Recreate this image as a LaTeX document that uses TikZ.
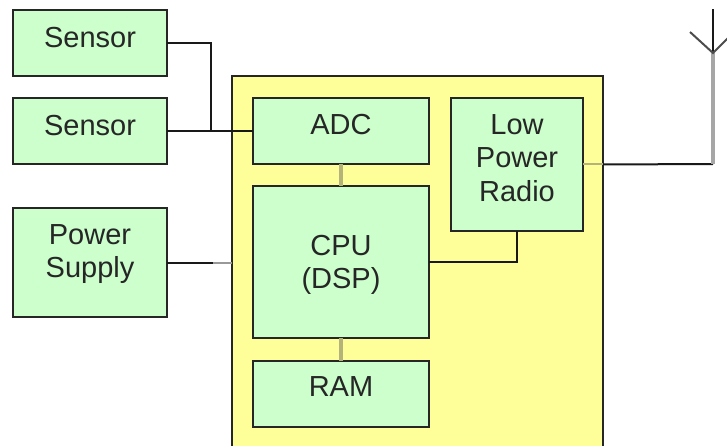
\documentclass[tikz,border=0pt]{standalone}
\usepackage{fontspec}
\setmainfont{Liberation Sans}
\usepackage{tikz}
\usetikzlibrary{positioning}
\definecolor{boxgreen}{HTML}{CCFFCC}
\definecolor{chipyellow}{HTML}{FFFF99}
\definecolor{busolive}{HTML}{B4B47A}

\begin{document}
\begin{tikzpicture}[
  x=1pt, y=-1pt,
  unit/.style={draw=black!85, line width=2pt, outer sep=0pt, inner sep=0pt, align=center, fill=boxgreen,
    text=black!85, font=\fontsize{29}{33.5}\selectfont, text height=20pt},
  periph/.style={unit, minimum width=154pt},
  block/.style={unit, minimum width=176pt},
  chip/.style={draw=black!85, line width=2pt, outer sep=0pt, fill=chipyellow, minimum width=371pt, minimum height=390pt},
  wire/.style={draw=black!90, line width=2pt},
  busline/.style={draw=busolive, line width=3.5pt},
  fade/.style={draw=black!40, line width=2pt},
  mast/.style={draw=black!35, line width=3.5pt}
]
\clip (0,0) rectangle (727,446);
\node[chip] (mcu) at (417.5,271) {};
\node[periph, minimum height=66pt, text depth=10pt] (sensorA) at (90,43) {Sensor};
\node[periph, minimum height=66pt, text depth=10pt, below=22pt of sensorA] (sensorB) {Sensor};
\node[periph, minimum height=109pt, text height=40pt, text depth=10pt, below=44pt of sensorB] (power) {Power\\Supply};
\node[block, minimum height=66pt, text depth=13pt] (adc) at (341,131) {ADC};
\node[block, minimum height=152pt, text height=60pt, text depth=7pt, below=22pt of adc] (cpu) {CPU\\(DSP)};
\node[block, minimum height=66pt, text depth=16pt, below=23pt of cpu] (ram) {RAM};
\node[unit, minimum width=132pt, minimum height=133pt, text height=80pt, text depth=6pt, anchor=north west] (radio) at ([xshift=22pt]adc.north east) {Low\\Power\\Radio};

\coordinate (joint) at (211,131);
\coordinate (powerfade) at (213,262.5);
\coordinate (mastfoot) at (713,164);
\coordinate (mastjoint) at (713,53);
\coordinate (masttip) at (713,9);
\coordinate (armL) at (690,32);
\coordinate (armR) at (734,32);

\draw[wire] (sensorA.east) -| (joint);
\draw[wire] (sensorB) -- (adc);
\draw[wire] (power.east) -- (powerfade);
\draw[fade] (powerfade) -- (power.east -| mcu.west);
\draw[busline] (adc) -- (cpu);
\draw[busline] (cpu) -- (ram);
\draw[wire] (cpu.east) -| (radio.south);
\draw[busline, line width=2pt] (radio.east) -- (radio.east -| mcu.east);
\draw[wire] (radio.east -| mcu.east) -- (mastfoot);
\draw[mast] (mastfoot) -- (mastjoint);
\draw[wire, line width=1.5pt] (mastjoint) -- (masttip);
\draw[draw=black!70, line width=2pt] (armL) -- (mastjoint) -- (armR);
\end{tikzpicture}
\end{document}
